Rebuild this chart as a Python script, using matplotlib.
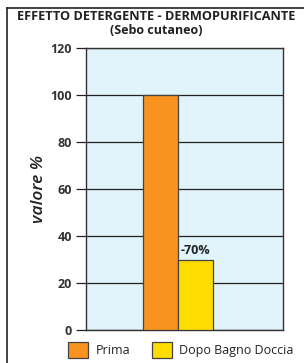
import matplotlib
matplotlib.use("Agg")
import matplotlib.pyplot as plt
from matplotlib.lines import Line2D

title = "EFFETTO DETERGENTE - DERMOPURIFICANTE"
subtitle = "(Sebo cutaneo)"
categories = ["Prima", "Dopo Bagno Doccia"]
values = [100, 30]
bar_labels = ["", "-70%"]
colors = ["#F7931E", "#FFDD00"]
yticks = [0, 20, 40, 60, 80, 100, 120]
ylabel = "valore %"

plt.rcParams['font.family'] = ['Open Sans', 'DejaVu Sans']

fig = plt.figure(figsize=(3.04, 3.63), dpi=100)
fig.patch.set_facecolor("white")
ax = fig.add_axes([86/304, 1-330/363, 197/304, 282/363])
ax.set_facecolor("#E1F3FB")

xs = list(range(len(values)))
bars = ax.bar(xs, values, width=1.0, color=colors, edgecolor="#444444", linewidth=0.9, zorder=3,
              label=categories)
for b, lab in zip(bars, bar_labels):
    if lab:
        ax.text(b.get_x() + b.get_width()/2, b.get_height() + 1.0, lab, ha="center", va="bottom",
                fontsize=9, fontweight="bold", color="#222222", zorder=4)

ax.set_xlim(-2.13, 3.5)
ax.set_ylim(0, 120)
ax.set_yticks(yticks)
ax.set_yticklabels([str(t) for t in yticks], fontsize=9, fontweight="bold", color="#333333")
ax.set_xticks([])
ax.grid(axis="y", color="#222222", linewidth=0.9, zorder=1)
ax.tick_params(axis="y", length=7, width=0.9, color="#222222", pad=3)
for s in ax.spines.values():
    s.set_color("#333333")
    s.set_linewidth(1.0)
ax.set_ylabel(ylabel, fontsize=12.5, fontstyle="italic", fontweight="semibold", color="#222222")
ax.yaxis.set_label_coords(-0.2, 0.5)

fig.text(156/304, 1-17/363, title, ha="center", va="center", fontsize=9.2, fontweight="bold", color="#222222")
fig.text(156/304, 1-30/363, subtitle, ha="center", va="center", fontsize=9, fontweight="bold", color="#222222")

# outer frame (left and top)
fig.add_artist(Line2D([7/304, 7/304], [0, 1-8/363], transform=fig.transFigure, color="#222222", linewidth=1.2))
fig.add_artist(Line2D([7/304, 1], [1-8/363, 1-8/363], transform=fig.transFigure, color="#222222", linewidth=1.2))

leg = fig.legend(handles=list(bars), labels=categories, loc="center", bbox_to_anchor=(181/304, 1-350/363),
                 ncol=2, frameon=False, fontsize=9, handlelength=1.6, handleheight=1.6,
                 columnspacing=1.7, handletextpad=0.6, borderpad=0)
for t in leg.get_texts():
    t.set_color("#222222")

fig.savefig("out.png", dpi=100)
